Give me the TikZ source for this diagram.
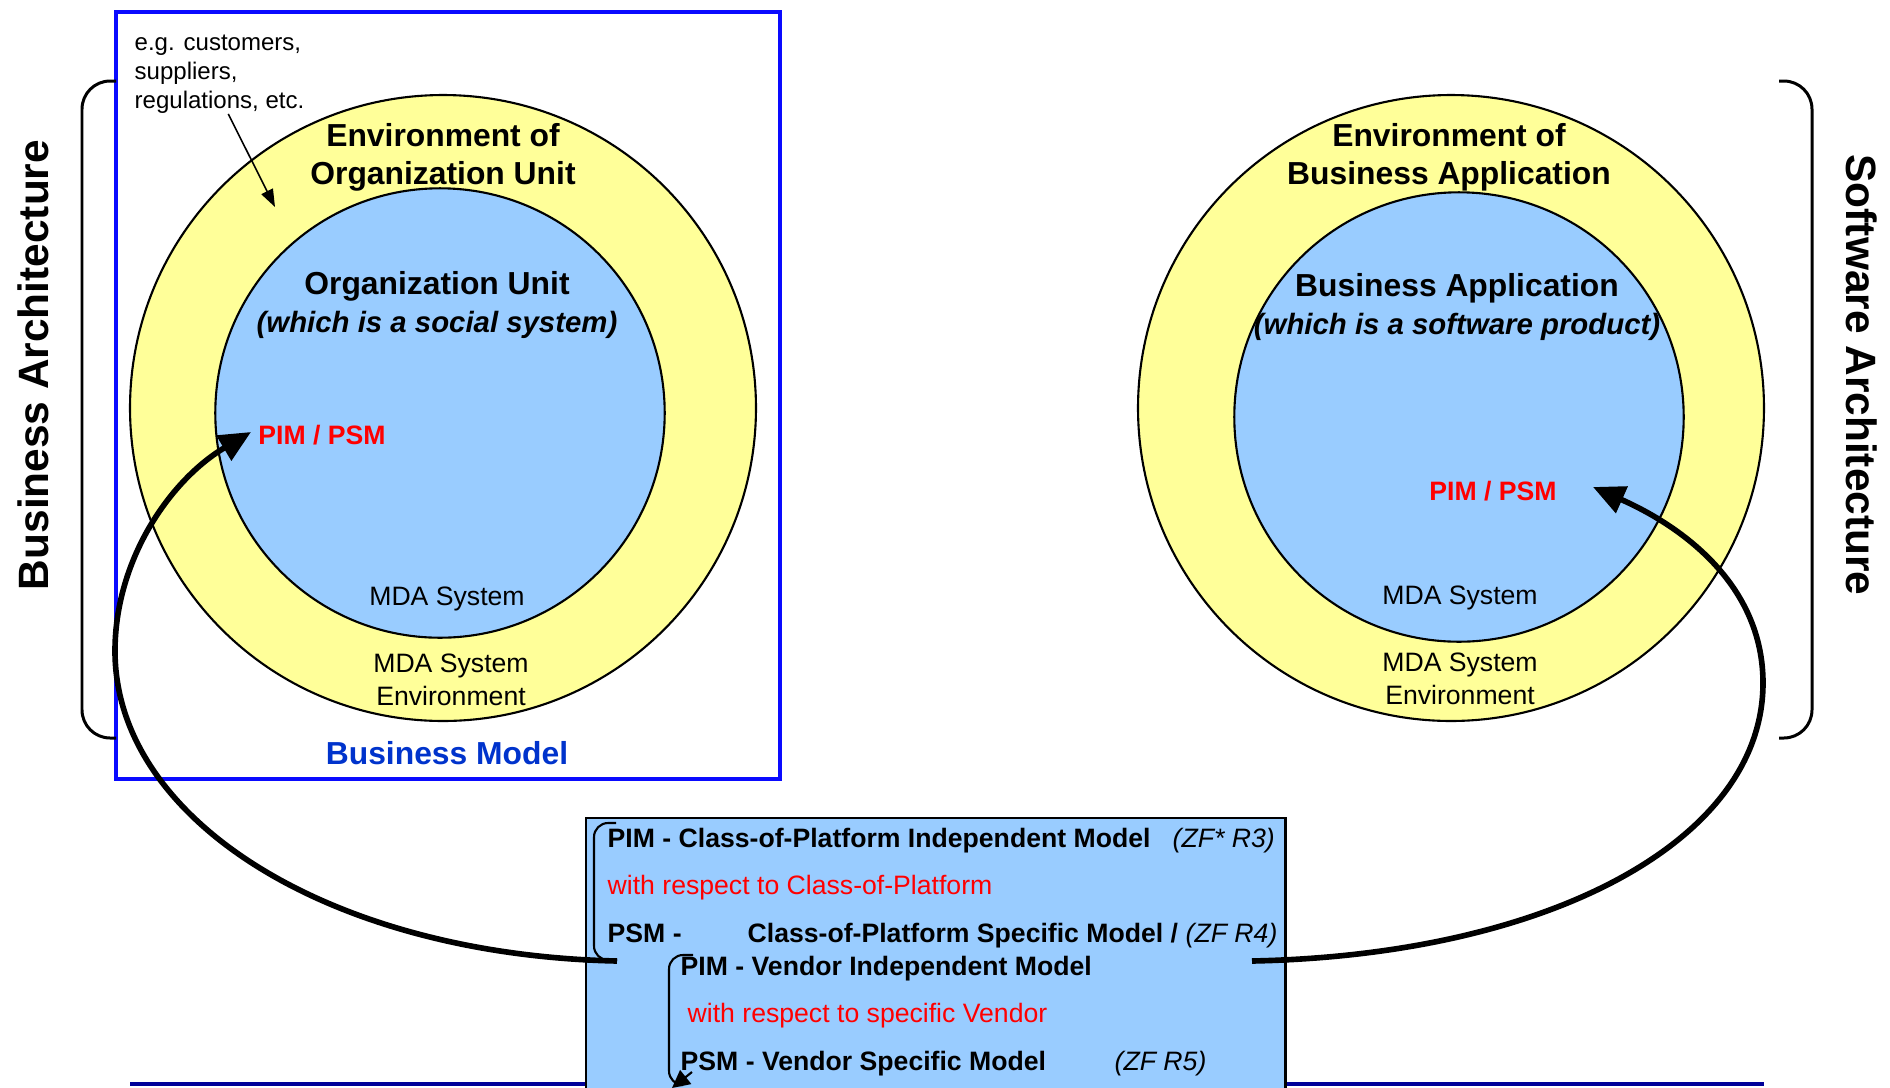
\documentclass[tikz,border=0pt]{standalone}
\usepackage{fontspec}
\setmainfont{Liberation Sans}
\usepackage{xcolor}
\usepackage{tikz}
\usetikzlibrary{arrows.meta}

\definecolor{envyellow}{HTML}{FFFF99}
\definecolor{sysblue}{HTML}{99CCFF}
\definecolor{frameblue}{HTML}{0A0AFF}
\definecolor{modelblue}{HTML}{0033CC}
\definecolor{lineblue}{HTML}{000099}
\definecolor{pimred}{HTML}{FF0000}

\begin{document}
\begin{tikzpicture}
            [x=0.01cm, y=-0.01cm,
            every node/.style={inner sep=0pt, align=center},
            envcircle/.style={circle, draw, line width=0.6pt, fill=envyellow, minimum size=178pt},
            syscircle/.style={circle, draw, line width=0.6pt, fill=sysblue, minimum size=127.8pt},
            title/.style={font=\bfseries\fontsize{9.05}{10.9}\selectfont},
            plain/.style={font=\fontsize{7.57}{9.25}\selectfont},
            note/.style={font=\fontsize{6.83}{8.25}\selectfont, align=left},
            pimpsm/.style={text=pimred, font=\bfseries\fontsize{7.57}{9}\selectfont},
            sidelabel/.style={font=\bfseries\fontsize{12.06}{14}\selectfont},
            boxtext/.style={anchor=base west, font=\bfseries\fontsize{7.57}{9}\selectfont},
            boxred/.style={anchor=base west, text=pimred, font=\fontsize{7.57}{9}\selectfont},
            boxref/.style={anchor=base west, font=\itshape\fontsize{7.57}{9}\selectfont},
            bigarrow/.style={line width=1.6pt, -{Triangle[length=9pt,width=8pt]}},
            thinarrow/.style={line width=0.45pt, -{Triangle[length=5pt,width=3.6pt]}},
            brace/.style={line width=0.85pt, rounded corners=8pt},
            bracket/.style={line width=0.6pt, rounded corners=4pt}]

            \clip (0,0) rectangle (1890,1087);

            % business model frame
            \draw[frameblue, line width=1.4pt] (116,12) rectangle (780,779);

            % left side: organization unit
            \node[envcircle] (envleft) at (443,408) {};
            \node[syscircle] (sysleft) at (440,413) {};
            \node[title] (envorg) at (443,157) {Environment of\\Organization Unit};
            \node[title] (orgunit) at (437,305) {Organization Unit\\\textit{\fontsize{8.35}{10.9}\selectfont(which is a social system)}};
            \node[pimpsm] (pimleft) at (322,435) {PIM / PSM};
            \node[plain] (mdaleft) at (447,599) {MDA System};
            \node[plain] (mdaenvleft) at (451,680) {MDA System\\Environment};
            \node[title, text=modelblue] (bizmodel) at (447,753) {Business Model};
            \node[note, anchor=west] (egnote) at (134,74) {e.g. customers,\\suppliers,\\regulations, etc.};
            \coordinate (egtip) at (275,207);
            \draw[thinarrow] ([xshift=2.5pt]egnote.south) -- (egtip);

            % right side: business application
            \node[envcircle] (envright) at (1451,408) {};
            \node[syscircle] (sysright) at (1459,417) {};
            \node[title] (envapp) at (1449,157) {Environment of\\Business Application};
            \node[title] (bizapp) at (1457,307) {Business Application\\\textit{\fontsize{8.35}{10.9}\selectfont(which is a software product)}};
            \node[pimpsm] (pimright) at (1493,491) {PIM / PSM};
            \node[plain] (mdaright) at (1460,598) {MDA System};
            \node[plain] (mdaenvright) at (1460,679) {MDA System\\Environment};

            % architecture braces
            \node[sidelabel, rotate=90] (bizarch) at (33,365) {Business Architecture};
            \node[sidelabel, rotate=-90] (swarch) at (1862,375) {Software Architecture};
            \draw[brace] (116,81) -- (82,81) -- (82,738) -- (116,738);
            \draw[brace] (1779,81) -- (1812,81) -- (1812,738) -- (1779,738);

            % model box
            \draw[lineblue, line width=1.1pt] (130,1084) -- (1764,1084);
            \node[draw, fill=sysblue, line width=0.6pt, anchor=north west,
                  minimum width=198.9pt, minimum height=82pt] (mdabox) at (585,817) {};
            \node[boxtext] (pimcop) at (607,847) {PIM - Class-of-Platform Independent Model};
            \node[boxref] (zfr3) at (1172,847) {(ZF* R3)};
            \node[boxred] (wrtcop) at (607,894) {with respect to Class-of-Platform};
            \node[boxtext] (psmcop) at (607,942) {PSM -};
            \node[boxtext] (copspec) at (747,942) {Class-of-Platform Specific Model /};
            \node[boxref] (zfr4) at (1185,942) {(ZF R4)};
            \node[boxtext] (pimvendor) at (680,975) {PIM - Vendor Independent Model};
            \node[boxred] (wrtvendor) at (687,1022) {with respect to specific Vendor};
            \node[boxtext] (psmvendor) at (680,1070) {PSM - Vendor Specific Model};
            \node[boxref] (zfr5) at (1114,1070) {(ZF R5)};

            \draw[bracket] (616,823) -- (594,823) -- (594,960) -- (617,960);
            \draw[bracket] (693,955) -- (669,955) -- (669,1085) -- (676,1085);
            \draw[line width=0.6pt, -{Triangle[length=5pt,width=5pt]}] (692,1072) -- (672,1088);

            % transformation arrows
            \coordinate (lstart) at (617,961);
            \coordinate (ltip) at (251,432);
            \coordinate (rstart) at (1252,961);
            \coordinate (rtip) at (1593,487);
            \draw[bigarrow] (lstart) .. controls (330,955) and (115,820) .. (115,651)
                .. controls (115,560) and (170,480) .. (ltip);
            \draw[bigarrow] (rstart) .. controls (1550,955) and (1763,840) .. (1763,683)
                .. controls (1763,590) and (1690,530) .. (rtip);
        \end{tikzpicture}
\end{document}
